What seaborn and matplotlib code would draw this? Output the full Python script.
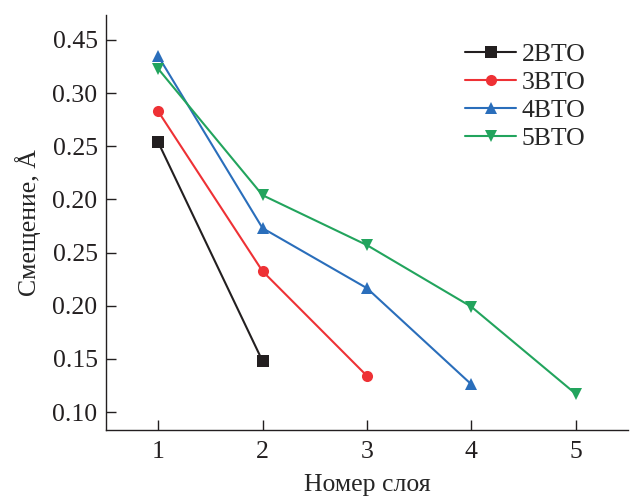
import matplotlib
matplotlib.use("Agg")
import matplotlib.pyplot as plt
import seaborn as sns
import pandas as pd

# Data (underlying linear scale positions)
series_names = ["2BTO", "3BTO", "4BTO", "5BTO"]
layers_2 = [1, 2]
disp_2 = [0.354, 0.148]
layers_3 = [1, 2, 3]
disp_3 = [0.383, 0.2325, 0.134]
layers_4 = [1, 2, 3, 4]
disp_4 = [0.435, 0.273, 0.2165, 0.126]
layers_5 = [1, 2, 3, 4, 5]
disp_5 = [0.423, 0.304, 0.257, 0.199, 0.117]

ytick_pos = [0.10, 0.15, 0.20, 0.25, 0.30, 0.35, 0.40, 0.45]
ytick_labels = ["0.10", "0.15", "0.20", "0.25", "0.20", "0.25", "0.30", "0.45"]
xticks = [1, 2, 3, 4, 5]

colors = ["#231f20", "#ee3135", "#2a6ebb", "#22a45d"]
markers = ["s", "o", "^", "v"]

rows = []
for name, xs, ys in zip(series_names, [layers_2, layers_3, layers_4, layers_5],
                        [disp_2, disp_3, disp_4, disp_5]):
    for x, y in zip(xs, ys):
        rows.append({"layer": x, "disp": y, "series": name})
df = pd.DataFrame(rows)

sns.set_theme(style="ticks")
plt.rcParams["font.family"] = ["Liberation Serif", "DejaVu Serif"]
plt.rcParams["mathtext.fontset"] = "stix"

fig = plt.figure(figsize=(6.3, 4.99), dpi=100)
ax = fig.add_axes([0.168, 0.138, 0.829, 0.832])

sns.lineplot(data=df, x="layer", y="disp", hue="series", style="series",
             hue_order=series_names, style_order=series_names,
             palette=dict(zip(series_names, colors)),
             markers=dict(zip(series_names, markers)), dashes=False,
             markersize=8, markeredgewidth=0, linewidth=1.5, ax=ax)

ax.set_xlim(0.5, 5.5)
ax.set_ylim(0.083, 0.4735)
ax.set_xticks(xticks)
ax.set_xticklabels([str(x) for x in xticks])
ax.set_yticks(ytick_pos)
ax.set_yticklabels(ytick_labels)
ax.tick_params(direction="in", length=7, width=1, labelsize=18.5, colors="#231f20")
ax.tick_params(axis="x", pad=8)
ax.tick_params(axis="y", pad=6)
for s in ["top", "right"]:
    ax.spines[s].set_visible(False)
for s in ["left", "bottom"]:
    ax.spines[s].set_linewidth(1.0)
    ax.spines[s].set_color("#231f20")

ax.set_xlabel("Номер слоя", fontsize=18.5, labelpad=8)
ax.set_ylabel("Смещение, Å", fontsize=18.5, labelpad=8)

leg = ax.legend(loc="upper left", bbox_to_anchor=(465 / 630, 1 - 43 / 499),
                bbox_transform=fig.transFigure, frameon=False,
                fontsize=18.5, handlelength=2.0, handletextpad=0.2,
                labelspacing=0.2, borderaxespad=0, borderpad=0)

fig.savefig("out.png", dpi=100)
